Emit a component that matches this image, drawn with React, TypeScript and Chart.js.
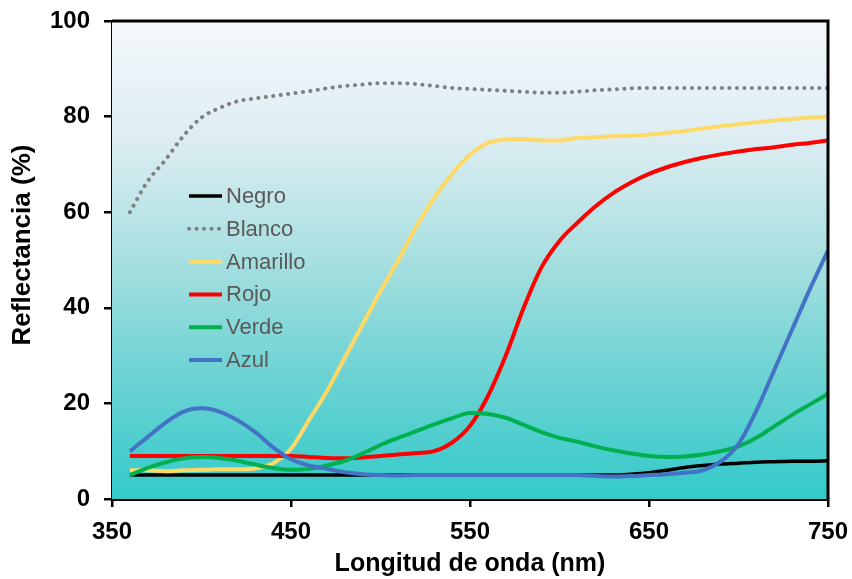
import React, { useEffect, useRef } from "react";
import { Chart, registerables } from "chart.js";

Chart.register(...registerables);

const wavelengths = [360, 370, 380, 390, 400, 410, 420, 430, 440, 450, 460, 470, 480, 490, 500, 510, 520, 530, 540, 550, 560, 570, 580, 590, 600, 610, 620, 630, 640, 650, 660, 670, 680, 690, 700, 710, 720, 730, 740, 750];

const negro = [5, 5, 5, 5, 5, 5, 5, 5, 5, 5, 5, 5, 5, 5, 5, 5, 5, 5, 5, 5, 5, 5, 5, 5, 5, 5, 5, 5, 5.2, 5.5, 6, 6.6, 7, 7.3, 7.5, 7.7, 7.8, 7.9, 7.9, 8];
const blanco = [60, 66.5, 71, 76, 79.8, 81.8, 83.2, 83.8, 84.3, 84.8, 85.3, 85.9, 86.4, 86.7, 87, 87, 86.8, 86.4, 86, 85.8, 85.6, 85.4, 85.2, 85, 85, 85.2, 85.5, 85.7, 85.9, 86, 86, 86, 86, 86, 86, 86, 86, 86, 86, 86];
const amarillo = [6, 6, 5.8, 6, 6.1, 6.2, 6.2, 6.4, 7.5, 10.5, 16.5, 22.5, 29.5, 36.5, 43.5, 50, 57, 63, 68, 72, 74.5, 75.2, 75.3, 75, 75, 75.5, 75.7, 75.9, 76, 76.2, 76.6, 77, 77.5, 78, 78.4, 78.8, 79.2, 79.5, 79.8, 80];
const rojo = [9, 9, 9, 9, 9, 9, 9, 9, 9, 9, 8.8, 8.6, 8.5, 8.7, 9, 9.3, 9.6, 10, 11.8, 15.3, 21.5, 30, 40, 48.5, 54, 57.8, 61.2, 64, 66.2, 68, 69.4, 70.5, 71.4, 72.1, 72.7, 73.2, 73.6, 74.1, 74.5, 75];
const verde = [5, 6.5, 7.7, 8.5, 8.8, 8.6, 8, 7.2, 6.5, 6.1, 6.3, 7, 8, 9.5, 11.3, 12.8, 14.2, 15.6, 16.9, 18, 17.8, 17, 15.5, 14, 12.8, 12, 11, 10.2, 9.5, 9, 8.8, 8.9, 9.3, 10, 11, 12.8, 15.2, 17.6, 19.8, 22];
const azul = [10, 13, 16, 18.3, 19, 18.3, 16.5, 14, 10.8, 8.3, 7, 6.3, 5.6, 5.2, 5, 4.9, 5, 5, 5, 5, 5, 5, 5, 5, 5, 5, 4.8, 4.7, 4.8, 5, 5.2, 5.5, 6, 7.8, 11.5, 18.5, 27, 35.5, 44, 52];

const seriesNames = ["Negro", "Blanco", "Amarillo", "Rojo", "Verde", "Azul"];
const seriesColors = ["#000000", "#808080", "#ffd966", "#ff0000", "#00b050", "#4472c4"];
const seriesValues = [negro, blanco, amarillo, rojo, verde, azul];

const xTicks = [350, 450, 550, 650, 750];
const xTitle = "Longitud de onda (nm)";
const yTitle = "Reflectancia (%)";

const FONT = "'Liberation Sans', Arial, sans-serif";

const bgPlugin = {
  id: "bgGradient",
  beforeDatasetsDraw(chart: any) {
    const { ctx, chartArea } = chart;
    const g = ctx.createLinearGradient(0, chartArea.top, 0, chartArea.bottom);
    g.addColorStop(0, "#f5f8fc");
    g.addColorStop(0.25, "#dcedf2");
    g.addColorStop(0.5, "#a7dfe0");
    g.addColorStop(0.75, "#6bd2d3");
    g.addColorStop(1, "#33caca");
    ctx.save();
    ctx.fillStyle = g;
    ctx.fillRect(chartArea.left, chartArea.top, chartArea.right - chartArea.left, chartArea.bottom - chartArea.top);
    ctx.restore();
  },
};

const framePlugin = {
  id: "frame",
  afterDraw(chart: any) {
    const { ctx, chartArea } = chart;
    ctx.save();
    ctx.strokeStyle = "#000";
    ctx.lineWidth = 3;
    ctx.beginPath();
    ctx.moveTo(chartArea.left, chartArea.top);
    ctx.lineTo(chartArea.right, chartArea.top);
    ctx.lineTo(chartArea.right, chartArea.bottom);
    ctx.stroke();
    ctx.fillStyle = "#000";
    ctx.font = `bold 26px ${FONT}`;
    ctx.textAlign = "center";
    ctx.textBaseline = "middle";
    ctx.translate(23, 245);
    ctx.rotate(-Math.PI / 2);
    ctx.fillText(yTitle, 0, 0);
    ctx.restore();
  },
};

const legendPlugin = {
  id: "innerLegend",
  afterDatasetsDraw(chart: any) {
    const { ctx } = chart;
    const x0 = 189;
    const y0 = 196;
    const step = 32.8;
    ctx.save();
    ctx.font = `22px ${FONT}`;
    ctx.textBaseline = "middle";
    ctx.textAlign = "left";
    chart.data.datasets.forEach((ds: any, i: number) => {
      const y = y0 + i * step;
      ctx.strokeStyle = ds.borderColor;
      ctx.lineWidth = ds.borderWidth;
      ctx.lineCap = ds.borderDash && ds.borderDash.length ? "round" : "butt";
      ctx.setLineDash(ds.borderDash || []);
      ctx.beginPath();
      ctx.moveTo(x0, y);
      ctx.lineTo(x0 + 33, y);
      ctx.stroke();
      ctx.setLineDash([]);
      ctx.fillStyle = "#595959";
      ctx.fillText(ds.label, x0 + 37, y + 1);
    });
    ctx.restore();
  },
};

const zeroPad = (scale: any) => {
  scale.paddingTop = 0;
  scale.paddingBottom = 0;
  scale.paddingLeft = 0;
  scale.paddingRight = 0;
};

export default function App() {
  const ref = useRef<HTMLCanvasElement | null>(null);

  useEffect(() => {
    const canvas = ref.current;
    if (!canvas) return;
    const datasets = seriesNames.map((name, i) => ({
      label: name,
      data: wavelengths.map((w, j) => ({ x: w, y: seriesValues[i][j] })),
      borderColor: seriesColors[i],
      backgroundColor: seriesColors[i],
      borderWidth: i === 0 ? 3.5 : 4,
      borderDash: i === 1 ? [0.1, 7.4] : [],
      borderCapStyle: i === 1 ? "round" : "butt",
      pointRadius: 0,
      fill: false,
      cubicInterpolationMode: "monotone",
      order: seriesNames.length - 1 - i,
    }));
    const chart = new Chart(canvas, {
      type: "line",
      data: { datasets: datasets as any },
      options: {
        responsive: false,
        animation: false,
        devicePixelRatio: 1,
        layout: { padding: { left: 0, top: 21, right: 24, bottom: 0 } },
        plugins: { legend: { display: false }, tooltip: { enabled: false } },
        scales: {
          x: {
            type: "linear",
            min: 350,
            max: 750,
            afterBuildTicks: (scale: any) => {
              scale.ticks = xTicks.map((v) => ({ value: v }));
            },
            afterFit: (scale: any) => {
              scale.height = 80;
              zeroPad(scale);
            },
            ticks: {
              color: "#000",
              font: { family: FONT, size: 24, weight: "bold" },
              padding: 11,
              maxRotation: 0,
            },
            grid: { display: true, drawOnChartArea: false, drawTicks: true, tickLength: 8, color: "#000", lineWidth: 2.5 },
            border: { display: true, color: "#000", width: 3 },
            title: {
              display: true,
              text: xTitle,
              color: "#000",
              font: { family: FONT, size: 25, weight: "bold" },
              padding: { top: 0, bottom: 0 },
            },
          },
          y: {
            type: "linear",
            min: 0,
            max: 100,
            ticks: {
              stepSize: 20,
              color: "#000",
              font: { family: FONT, size: 24, weight: "bold" },
              padding: 14,
            },
            afterFit: (scale: any) => {
              scale.width = 112;
              zeroPad(scale);
            },
            grid: { display: true, drawOnChartArea: false, drawTicks: true, tickLength: 8, color: "#000", lineWidth: 2.5 },
            border: { display: true, color: "#000", width: 3 },
            title: { display: false },
          },
        },
      },
      plugins: [bgPlugin, framePlugin, legendPlugin],
    } as any);
    return () => chart.destroy();
  }, []);

  return (
    <div style={{ position: "absolute", left: 0, top: 0, width: 852, height: 579, background: "#fff" }}>
      <canvas ref={ref} width={852} height={579} style={{ display: "block", width: 852, height: 579 }} />
    </div>
  );
}
